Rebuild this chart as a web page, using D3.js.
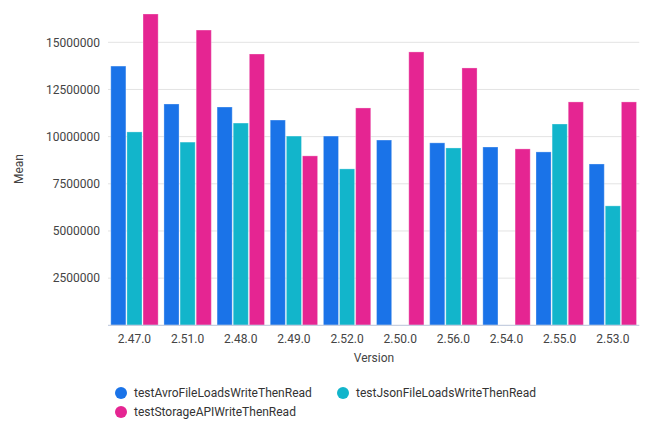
<!DOCTYPE html>
<html><head><meta charset="utf-8">
<script src="https://cdn.jsdelivr.net/npm/d3@7"></script>
<style>body{margin:0;background:#fff;font-family:Roboto,sans-serif}</style>
</head><body><svg id="c" width="650" height="442"></svg>
<script>
const versions = ["2.47.0","2.51.0","2.48.0","2.49.0","2.52.0","2.50.0","2.56.0","2.54.0","2.55.0","2.53.0"];
const seriesNames = ["testAvroFileLoadsWriteThenRead","testJsonFileLoadsWriteThenRead","testStorageAPIWriteThenRead"];
const avro    = [13740000,11730000,11570000,10880000,10030000,9820000,9670000,9450000,9190000,8550000];
const json    = [10250000,9710000,10720000,10030000,8290000,null,9400000,null,10670000,6330000];
const storage = [16500000,15650000,14380000,8980000,11520000,14490000,13640000,9350000,11840000,11840000];
const yTicks = [2500000,5000000,7500000,10000000,12500000,15000000];
const colors = ["#1a73e8","#12b5cb","#e52592"];
const seriesValues = [avro, json, storage];

const svg = d3.select("#c");
const x0 = d3.scaleBand().domain(versions).range([108,639.3]).paddingInner(0.09).paddingOuter(0.043);
const x1 = d3.scaleBand().domain(seriesNames).range([0, x0.bandwidth()]);
const y = d3.scaleLinear().domain([0,15000000]).range([325.3,42.3]);

// gridlines
svg.append("g").selectAll("line").data(yTicks).join("line")
  .attr("x1",108).attr("x2",639.3).attr("y1",d=>y(d)).attr("y2",d=>y(d))
  .attr("stroke","#e3e3e3").attr("stroke-width",1);

// bars
versions.forEach((v,i)=>{
  const g = svg.append("g").attr("transform",`translate(${x0(v)},0)`);
  seriesNames.forEach((s,j)=>{
    const val = seriesValues[j][i];
    if(val==null) return;
    g.append("rect").attr("x",x1(s)+0.5).attr("width",x1.bandwidth()-1)
      .attr("y",y(val)).attr("height",y(0)-y(val)).attr("fill",colors[j])
      .attr("stroke","#fff").attr("stroke-opacity",0.3).attr("stroke-width",1);
  });
});

// x axis line
svg.append("line").attr("x1",108).attr("x2",639.3).attr("y1",325.3).attr("y2",325.3).attr("stroke","#c6cfe0").attr("stroke-width",1.2);

// y tick labels
const yAxis = d3.axisLeft(y).tickValues(yTicks).tickFormat(d3.format("d")).tickSize(0).tickPadding(0);
const ya = svg.append("g").attr("transform","translate(100,0)").call(yAxis);
ya.select(".domain").remove();
ya.selectAll("text").attr("font-family","Roboto,sans-serif").attr("font-size",12).attr("fill","#444");

// x tick labels
const xAxis = d3.axisBottom(x0).tickSize(0).tickPadding(0);
const xa = svg.append("g").attr("transform","translate(0,334)").call(xAxis);
xa.select(".domain").remove();
xa.selectAll("text").attr("font-family","Roboto,sans-serif").attr("font-size",12).attr("fill","#444");

// axis titles
svg.append("text").attr("x",374).attr("y",362).attr("text-anchor","middle")
  .attr("font-family","Roboto,sans-serif").attr("font-size",12).attr("fill","#444").text("Version");
svg.append("text").attr("transform","translate(23,169) rotate(-90)").attr("text-anchor","middle")
  .attr("font-family","Roboto,sans-serif").attr("font-size",12).attr("fill","#444").text("Mean");

// legend
const legendPos = [[121,393],[343,393],[121,412]];
seriesNames.forEach((s,j)=>{
  const [lx,ly] = legendPos[j];
  svg.append("circle").attr("cx",lx).attr("cy",ly).attr("r",6).attr("fill",colors[j]);
  svg.append("text").attr("x",lx+13).attr("y",ly+4).attr("font-family","Roboto,sans-serif")
    .attr("font-size",12).attr("fill","#333").text(s);
});
</script></body></html>
